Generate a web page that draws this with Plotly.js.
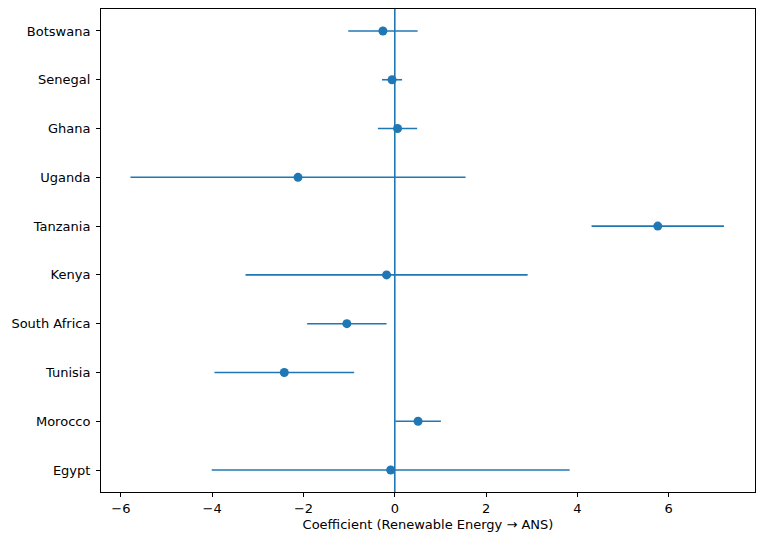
<!DOCTYPE html>
<html>
<head>
<meta charset="utf-8">
<script src="https://cdn.plot.ly/plotly-3.0.1.min.js"></script>
<style>html,body{margin:0;padding:0;background:#fff;}#chart{width:764px;height:541px;}</style>
</head>
<body>
<div id="chart"></div>
<script>
const countries = ["Egypt", "Morocco", "Tunisia", "South Africa", "Kenya", "Tanzania", "Uganda", "Ghana", "Senegal", "Botswana"];
const coefficients = [-0.09, 0.51, -2.42, -1.05, -0.18, 5.76, -2.12, 0.06, -0.06, -0.26];
const errors = [3.92, 0.50, 1.53, 0.87, 3.09, 1.45, 3.67, 0.43, 0.22, 0.76];
const refLine = 0;
const xTickVals = [-6, -4, -2, 0, 2, 4, 6];
const xTickText = ["−6", "−4", "−2", "0", "2", "4", "6"];
const xLabel = "Coefficient (Renewable Energy → ANS)";

const blue = "#1f77b4";
const font = {family: "DejaVu Sans, sans-serif", size: 13, color: "#000"};

const trace = {
  type: "scatter",
  mode: "markers",
  x: coefficients,
  y: countries,
  marker: {color: blue, size: 9},
  error_x: {type: "data", array: errors, visible: true, color: blue, thickness: 1.6, width: 0},
  hoverinfo: "x+y"
};

const layout = {
  width: 764, height: 541,
  margin: {l: 101, r: 9, t: 9, b: 49},
  paper_bgcolor: "#fff", plot_bgcolor: "#fff",
  font: font,
  showlegend: false,
  xaxis: {
    range: [-6.435, 7.89],
    tickvals: xTickVals, ticktext: xTickText,
    showgrid: false, zeroline: false,
    showline: true, mirror: true, linecolor: "#000", linewidth: 1,
    ticks: "outside", ticklen: 4, tickcolor: "#000", tickwidth: 1,
    tickfont: font,
    title: {text: xLabel, font: font, standoff: 5}
  },
  yaxis: {
    type: "category",
    categoryorder: "array", categoryarray: countries,
    range: [-0.45, 9.45],
    showgrid: false, zeroline: false,
    showline: true, mirror: true, linecolor: "#000", linewidth: 1,
    ticks: "outside", ticklen: 4, tickcolor: "#000", tickwidth: 1,
    ticklabelstandoff: 3,
    tickfont: font
  },
  shapes: [{
    type: "line", xref: "x", yref: "paper",
    x0: refLine, x1: refLine, y0: 0, y1: 1,
    line: {color: blue, width: 1.6}, layer: "below"
  }]
};

Plotly.newPlot("chart", [trace], layout, {staticPlot: true, displayModeBar: false});
</script>
</body>
</html>
